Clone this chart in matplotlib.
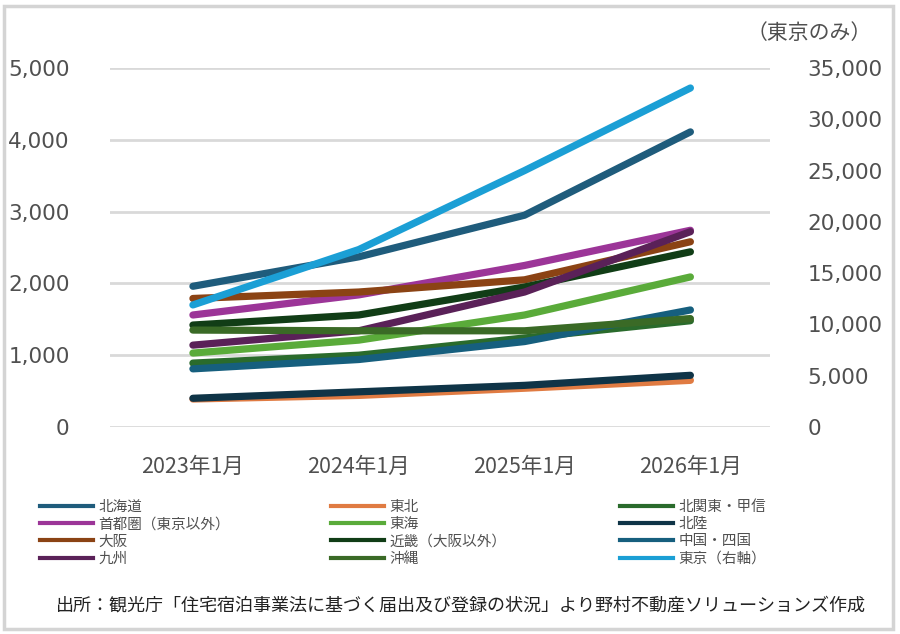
import matplotlib
matplotlib.use("Agg")
import matplotlib.pyplot as plt
from matplotlib.lines import Line2D
from matplotlib.patches import Rectangle

plt.rcParams['font.family'] = ['DejaVu Sans', 'Noto Sans CJK JP']
JP = ['Noto Sans CJK JP', 'DejaVu Sans']

months = ['2023年1月', '2024年1月', '2025年1月', '2026年1月']

hokkaido = [1960, 2370, 2950, 4110]
tohoku = [390, 440, 540, 650]
hokkanto = [890, 1000, 1240, 1480]
shutoken = [1560, 1840, 2250, 2740]
tokai = [1030, 1210, 1560, 2090]
hokuriku = [400, 490, 580, 720]
osaka = [1790, 1880, 2050, 2580]
kinki = [1420, 1560, 1950, 2440]
chugoku = [810, 940, 1190, 1630]
kyushu = [1140, 1340, 1880, 2720]
okinawa = [1350, 1340, 1340, 1510]
tokyo = [11900, 17300, 25000, 33050]  # right axis

names = ['北海道', '東北', '北関東・甲信', '首都圏（東京以外）', '東海', '北陸',
         '大阪', '近畿（大阪以外）', '中国・四国', '九州', '沖縄']
series = [hokkaido, tohoku, hokkanto, shutoken, tokai, hokuriku,
          osaka, kinki, chugoku, kyushu, okinawa]
colors = ['#1f5c7c', '#e07b42', '#2a6b2c', '#9c3598', '#5aab3a', '#0f3447',
          '#8b4314', '#113d16', '#165f7e', '#5a2158', '#3a6a26']
tokyo_name = '東京（右軸）'
tokyo_color = '#1b9fd5'

fig = plt.figure(figsize=(9, 6.34), dpi=100)
ax = fig.add_axes([110/900, 1 - 427/634, 660/900, 359/634])
ax2 = ax.twinx()

x = range(len(months))
handles = []
for s, c, n in zip(series, colors, names):
    ax.plot(x, s, color=c, lw=5.2, solid_capstyle='round', solid_joinstyle='round')
    handles.append(Line2D([], [], color=c, lw=3, label=n))
ax2.plot(x, tokyo, color=tokyo_color, lw=5.2, solid_capstyle='round', solid_joinstyle='round')
handles.append(Line2D([], [], color=tokyo_color, lw=3, label=tokyo_name))

ax.set_xlim(-0.5, 3.48)
ax.set_ylim(0, 5000)
ax2.set_ylim(0, 35000)
ax.set_yticks(range(0, 5001, 1000))
ax2.set_yticks(range(0, 35001, 5000))
ax.set_yticklabels([f'{v:,}' for v in range(0, 5001, 1000)])
ax2.set_yticklabels([f'{v:,}' for v in range(0, 35001, 5000)])
ax.set_xticks(list(x))
ax.set_xticklabels(months, family=JP, fontsize=16)

ax.grid(axis='y', color='#d9d9d9', lw=2)
ax.set_axisbelow(True)
for a in (ax, ax2):
    for sp in a.spines.values():
        sp.set_visible(False)
    a.tick_params(length=0, labelcolor='#505050', labelsize=15.5)
ax.tick_params(axis='y', pad=29)
ax2.tick_params(axis='y', pad=27)
ax.tick_params(axis='x', pad=21)

fig.text(872/900, 1 - 33/634, '（東京のみ）', family=JP, fontsize=15,
         color='#505050', ha='right', va='center')

# legend: 3 columns, row-major order like the original
cols_x = [40/900, 331/900, 620/900]
for k in range(3):
    hs = [handles[k + 3*r] for r in range(4)]
    fig.legend(handles=hs, loc='upper left', bbox_to_anchor=(cols_x[k], 1 - 500/634),
               frameon=False, prop={'family': JP, 'size': 10.5}, handlelength=3.6,
               handletextpad=0.4, labelspacing=0.22, borderaxespad=0, borderpad=0,
               labelcolor='#505050')

fig.text(461/900, 1 - 606/634,
         '出所：観光庁「住宅宿泊事業法に基づく届出及び登録の状況」より野村不動産ソリューションズ作成',
         family=JP, fontsize=13, color='#222222', ha='center', va='center')

fig.patches.append(Rectangle((4/900, 5/634), 889/900, 623/634, transform=fig.transFigure,
                             fill=False, edgecolor='#d4d4d4', lw=2.5))

fig.savefig('out.png', dpi=100)
